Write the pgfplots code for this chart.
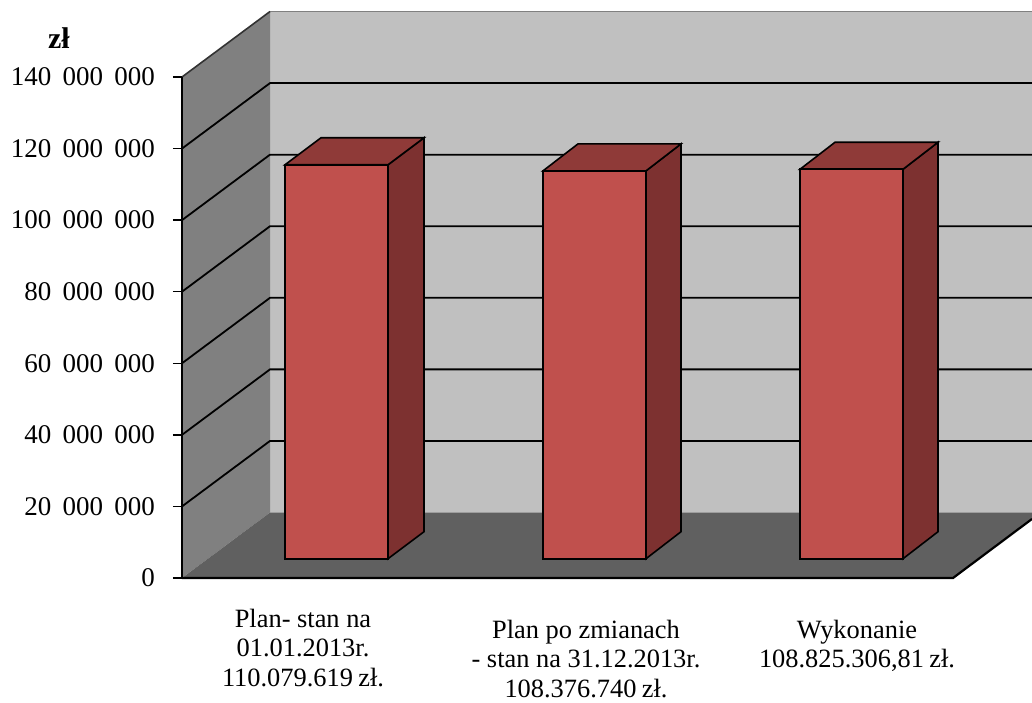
\documentclass[border=0pt]{standalone}
\usepackage{pgfplots}
\pgfplotsset{compat=1.18}
\usepackage{fontspec}
\setmainfont{Liberation Serif}
\definecolor{backwall}{HTML}{C0C0C0}
\definecolor{sidewall}{HTML}{808080}
\definecolor{floorgray}{HTML}{606060}
\definecolor{barfront}{HTML}{C0504D}
\definecolor{barside}{HTML}{7D3130}
\definecolor{bartop}{HTML}{8F3A38}
\begin{document}
\begin{tikzpicture}
\path[use as bounding box] (-91pt,-62pt) rectangle (425pt,289pt);
\begin{axis}[
    at={(0,0)}, anchor=south west,
    scale only axis,
    width=425pt, height=250.5pt,
    xmin=182, xmax=1032,
    ymin=0, ymax=140000000,
    clip=false,
    axis x line=none,
    axis y line=left,
    y axis line style={-, line width=0.8pt},
    ytick={0,20000000,40000000,60000000,80000000,100000000,120000000,140000000},
    scaled y ticks=false,
    tick align=outside,
    major tick length=4.5pt,
    ytick style={line width=0.7pt, black},
    yticklabel style={
        font=\fontsize{13.5}{15}\selectfont,
        xshift=-5.5pt,
        /pgf/number format/fixed,
        /pgf/number format/assume math mode=true,
        /pgf/number format/1000 sep={\hspace{0.42em}},
    },
    axis on top,
]
% scene walls, y is in zl, depth of the box is 88 px / 18.3 mln
\addplot[fill=backwall, draw=none] coordinates {(270,18300000) (1032,18300000) (1032,158300000) (270,158300000)} -- cycle;
\addplot[fill=sidewall, draw=none] coordinates {(182,0) (270,18300000) (270,158300000) (182,140000000)} -- cycle;
\addplot[fill=floorgray, draw=none] coordinates {(182,0) (953,0) (1032,16500000) (1032,18300000) (270,18300000)} -- cycle;
\addplot[sidewall, line width=0.9pt] coordinates {(270,158300000) (1032,158300000)};
% gridlines
\addplot[black, line width=0.9pt] coordinates {(182,20000000) (270,38300000) (1032,38300000)};
\addplot[black, line width=0.9pt] coordinates {(182,40000000) (270,58300000) (1032,58300000)};
\addplot[black, line width=0.9pt] coordinates {(182,60000000) (270,78300000) (1032,78300000)};
\addplot[black, line width=0.9pt] coordinates {(182,80000000) (270,98300000) (1032,98300000)};
\addplot[black, line width=0.9pt] coordinates {(182,100000000) (270,118300000) (1032,118300000)};
\addplot[black, line width=0.9pt] coordinates {(182,120000000) (270,138300000) (1032,138300000)};
\addplot[black!80, line width=0.8pt] coordinates {(182,140000000) (270,158300000)};
\addplot[black, line width=1.1pt] coordinates {(182,0) (953,0) (1032,16500000)};
% bars
\addplot[fill=barside, draw=black, line width=0.8pt, yshift=9.65pt] coordinates {(388,0) (424,7540000) (424,117619619) (388,110079619)} -- cycle;
\addplot[fill=bartop, draw=black, line width=0.8pt, yshift=9.65pt] coordinates {(285,110079619) (388,110079619) (424,117619619) (321,117619619)} -- cycle;
\addplot[ybar, bar width=51.5pt, bar shift=0pt, fill=barfront, draw=black, line width=0.8pt, yshift=9.65pt] coordinates {(336.5,110079619)};

\addplot[fill=barside, draw=black, line width=0.8pt, yshift=9.65pt] coordinates {(646,0) (681,7540000) (681,115916740) (646,108376740)} -- cycle;
\addplot[fill=bartop, draw=black, line width=0.8pt, yshift=9.65pt] coordinates {(543,108376740) (646,108376740) (681,115916740) (578,115916740)} -- cycle;
\addplot[ybar, bar width=51.5pt, bar shift=0pt, fill=barfront, draw=black, line width=0.8pt, yshift=9.65pt] coordinates {(594.5,108376740)};

\addplot[fill=barside, draw=black, line width=0.8pt, yshift=9.65pt] coordinates {(903,0) (938,7540000) (938,116365307) (903,108825307)} -- cycle;
\addplot[fill=bartop, draw=black, line width=0.8pt, yshift=9.65pt] coordinates {(800,108825307) (903,108825307) (938,116365307) (835,116365307)} -- cycle;
\addplot[ybar, bar width=51.5pt, bar shift=0pt, fill=barfront, draw=black, line width=0.8pt, yshift=9.65pt] coordinates {(851.5,108825307)};
% labels
\node[font=\fontsize{15}{15}\selectfont\bfseries] at (axis cs:59,150900000) {zł};
\node[anchor=north, inner sep=0pt, align=center, font=\fontsize{13.2}{14.8}\selectfont] at (axis cs:303,-8500000) {Plan- stan na\\01.01.2013r.\\110.079.619\hspace{0.2em}zł.};
\node[anchor=north, inner sep=0pt, align=center, font=\fontsize{13.2}{14.8}\selectfont] at (axis cs:586,-11600000) {Plan po zmianach\\- stan na 31.12.2013r.\\108.376.740\hspace{0.2em}zł.};
\node[anchor=north, inner sep=0pt, align=center, font=\fontsize{13.2}{14.8}\selectfont] at (axis cs:857,-11600000) {Wykonanie\\108.825.306,81\hspace{0.2em}zł.};
\end{axis}
\end{tikzpicture}
\end{document}
